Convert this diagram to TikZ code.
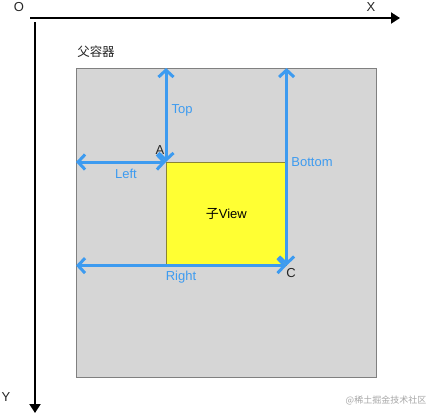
\documentclass[tikz,border=0pt]{standalone}
\usepackage{fontspec}
\setmainfont{Liberation Sans}
\newfontfamily\cjk{Noto Sans CJK SC}
\usetikzlibrary{arrows.meta,positioning}
\definecolor{dimblue}{HTML}{3D9BF0}
\definecolor{boxgray}{HTML}{D6D6D6}
\definecolor{edgegray}{HTML}{808080}
\definecolor{viewyellow}{HTML}{FFFF33}
\definecolor{viewedge}{HTML}{8A8436}

\begin{document}
\begin{tikzpicture} [x=1pt,y=-1pt,font=\fontsize{13}{15}\selectfont,
    axis/.style={draw=black,line width=2pt,-{Triangle[length=9pt,width=11pt]}},
    dim/.style={draw=dimblue,line width=3pt,
      {Straight Barb[length=7pt,width=15pt]}-{Straight Barb[length=7pt,width=15pt]}},
    lbl/.style={text=dimblue,inner sep=0pt},
    pt/.style={text=black!85,inner sep=0pt}]
  \useasboundingbox (0,0) rectangle (437,416);

  \node[draw=edgegray,fill=boxgray,line width=0.8pt,anchor=north west,
        minimum width=300pt,minimum height=309pt,inner sep=0pt] (parent) at (76,68) {};
  \node[draw=viewedge,fill=viewyellow,line width=0.6pt,anchor=north west,
        minimum width=120pt,minimum height=103pt,inner sep=0pt] (child) at (166,162) {};
  \node[inner sep=0pt] at (child.center) {{\cjk 子}View};
  \node[pt] (ptitle) at (96,52) {\cjk\fontsize{12.5}{14}\selectfont 父容器};

  \coordinate (A) at (child.north west);
  \coordinate (C) at (child.south east);
  \coordinate (O) at (35,18);
  \coordinate (xend) at (400,18);
  \coordinate (yend) at (35,413);

  \draw[axis] ([xshift=-5pt]O) -- (xend);
  \draw[axis] ([yshift=-4pt]O) -- (yend);
  \node[pt] (otxt) at (19,7) {O};
  \node[pt] (xtxt) at (371,7) {X};
  \node[pt] (ytxt) at (6,397) {Y};

  \draw[dim] (A |- parent.north) -- (A);
  \draw[dim] (A -| parent.west) -- (A);
  \draw[dim] (C |- parent.north) -- (C);
  \draw[dim] (C -| parent.west) -- (C);

  \node[pt] (atxt) at (160,150) {A};
  \node[pt] (ctxt) at (291,273) {C};
  \node[lbl] (top) at (182,110) {Top};
  \node[lbl] (left) at (126,174) {Left};
  \node[lbl] (bottom) at (312,162) {Bottom};
  \node[lbl] (right) at (181,277) {Right};
  \node[text=black!35,inner sep=0pt] (mark) at (386,400) {\cjk\fontsize{9}{11}\selectfont @稀土掘金技术社区};
\end{tikzpicture}
\end{document}
